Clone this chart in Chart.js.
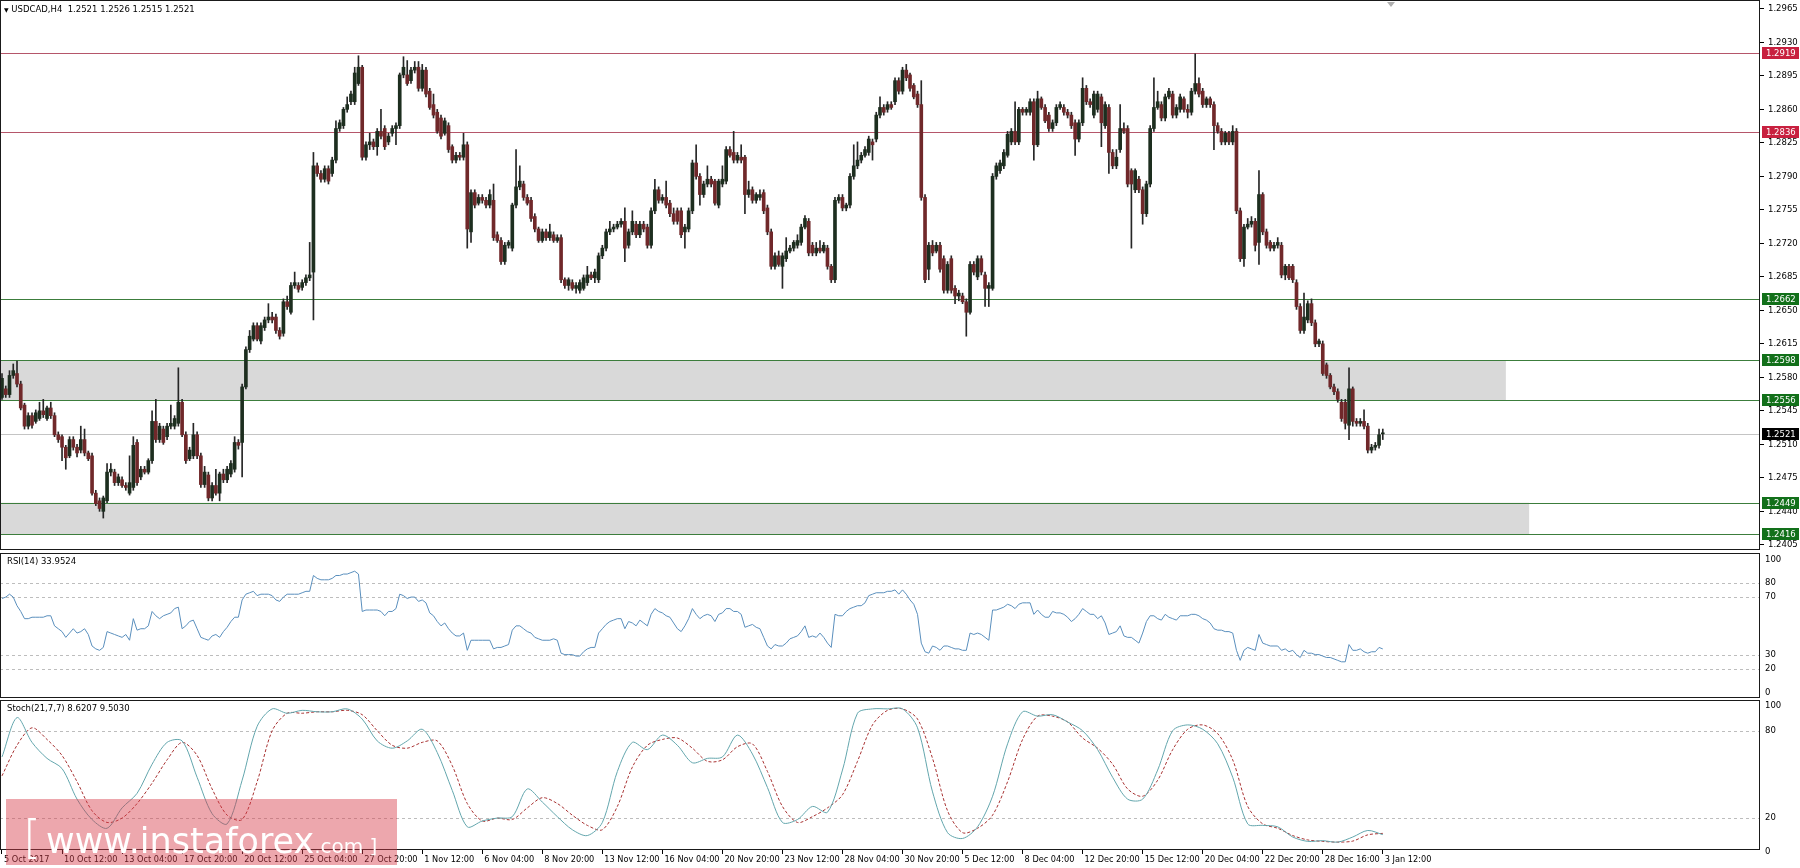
<!DOCTYPE html>
<html><head><meta charset="utf-8">
<script src="https://cdn.jsdelivr.net/npm/chart.js@4.4.1/dist/chart.umd.min.js"></script>
<style>
html,body{margin:0;padding:0;background:#fff;}
#wrap{position:relative;width:1800px;height:868px;overflow:hidden;background:#fff;font-family:"DejaVu Sans",sans-serif;}
canvas{position:absolute;left:0;}
.lbl{position:absolute;font-size:8.5px;line-height:10px;color:#000;white-space:pre;}
#wm{position:absolute;left:6px;top:799px;width:391px;height:66px;background:rgba(214,60,74,0.45);}
#wmText{position:absolute;left:17px;top:15px;color:#fff;white-space:pre;line-height:1;font-family:"DejaVu Sans",sans-serif;}
#shift{position:absolute;left:1387px;top:2px;width:0;height:0;border-left:4px solid transparent;border-right:4px solid transparent;border-top:5px solid #b0b0b0;}
</style></head><body>
<div id="wrap">
<canvas id="cMain" width="1800" height="550" style="top:0"></canvas>
<canvas id="cRsi" width="1800" height="145" style="top:553px"></canvas>
<canvas id="cSto" width="1800" height="168" style="top:700px"></canvas>
<div class="lbl" style="left:4px;top:4px"><span style="font-size:6px">▼</span> USDCAD,H4  1.2521 1.2526 1.2515 1.2521</div>
<div class="lbl" style="left:7px;top:556px">RSI(14) 33.9524</div>
<div class="lbl" style="left:7px;top:703px">Stoch(21,7,7) 8.6207 9.5030</div>
<div id="shift"></div>
<div id="wm"><div id="wmText"><span style="font-size:46px;font-weight:200">[</span> <span style="font-size:35px">www.instaforex</span><span style="font-size:20px">.com ]</span></div></div>
</div>
<script>
// ---------- DATA ----------
const xTickLabels = ['5 Oct 2017','10 Oct 12:00','13 Oct 04:00','17 Oct 20:00','20 Oct 12:00','25 Oct 04:00','27 Oct 20:00','1 Nov 12:00','6 Nov 04:00','8 Nov 20:00','13 Nov 12:00','16 Nov 04:00','20 Nov 20:00','23 Nov 12:00','28 Nov 04:00','30 Nov 20:00','5 Dec 12:00','8 Dec 04:00','12 Dec 20:00','15 Dec 12:00','20 Dec 04:00','22 Dec 20:00','28 Dec 16:00','3 Jan 12:00'];
const BARS_PER_LABEL = 16;
const priceTicks = [1.2405,1.2440,1.2475,1.2510,1.2545,1.2580,1.2615,1.2650,1.2685,1.2720,1.2755,1.2790,1.2825,1.2860,1.2895,1.2930,1.2965];

const opens = [1.2559,1.2568,1.2562,1.2582,1.2584,1.2573,1.2551,1.2529,1.2540,1.2534,
1.2537,1.2545,1.2537,1.2548,1.2540,1.2520,1.2518,1.2507,1.2498,1.2515,
1.2507,1.2504,1.2515,1.2501,1.2498,1.2459,1.2451,1.2440,1.2451,1.2481,
1.2481,1.2470,1.2473,1.2467,1.2459,1.2465,1.2512,1.2476,1.2484,1.2481,
1.2493,1.2534,1.2515,1.2526,1.2518,1.2529,1.2529,1.2532,1.2554,1.2520,
1.2495,1.2498,1.2520,1.2498,1.2468,1.2478,1.2454,1.2467,1.2459,1.2479,
1.2473,1.2479,1.2484,1.2512,1.2512,1.2570,1.2609,1.2620,1.2634,1.2618,
1.2632,1.2640,1.2643,1.2643,1.2629,1.2626,1.2659,1.2648,1.2676,1.2676,
1.2674,1.2679,1.2684,1.2690,1.2801,1.2793,1.2787,1.2798,1.2793,1.2807,
1.2840,1.2843,1.2860,1.2868,1.2868,1.2887,1.2904,1.2810,1.2823,1.2826,
1.2821,1.2837,1.2840,1.2826,1.2835,1.2840,1.2843,1.2896,1.2896,1.2890,
1.2901,1.2904,1.2882,1.2901,1.2879,1.2865,1.2857,1.2851,1.2835,1.2843,
1.2821,1.2807,1.2812,1.2810,1.2823,1.2732,1.2773,1.2762,1.2768,1.2765,
1.2760,1.2765,1.2729,1.2723,1.2701,1.2718,1.2715,1.2760,1.2779,1.2782,
1.2768,1.2765,1.2748,1.2735,1.2723,1.2732,1.2726,1.2729,1.2723,1.2726,
1.2682,1.2676,1.2679,1.2673,1.2671,1.2673,1.2679,1.2687,1.2684,1.2682,
1.2707,1.2715,1.2732,1.2735,1.2737,1.2740,1.2743,1.2718,1.2732,1.2740,
1.2729,1.2740,1.2737,1.2718,1.2754,1.2776,1.2765,1.2768,1.2762,1.2751,
1.2754,1.2754,1.2732,1.2735,1.2754,1.2804,1.2790,1.2771,1.2782,1.2787,
1.2785,1.2760,1.2782,1.2785,1.2818,1.2815,1.2807,1.2810,1.2810,1.2771,
1.2776,1.2765,1.2768,1.2773,1.2757,1.2732,1.2696,1.2707,1.2696,1.2704,
1.2712,1.2715,1.2718,1.2721,1.2737,1.2743,1.2718,1.2710,1.2715,1.2712,
1.2715,1.2696,1.2682,1.2765,1.2768,1.2757,1.2760,1.2790,1.2801,1.2807,
1.2812,1.2815,1.2826,1.2829,1.2854,1.2862,1.2860,1.2865,1.2868,1.2890,
1.2879,1.2901,1.2896,1.2885,1.2876,1.2865,1.2768,1.2693,1.2718,1.2712,
1.2718,1.2704,1.2671,1.2704,1.2673,1.2665,1.2665,1.2659,1.2648,1.2698,
1.2685,1.2704,1.2687,1.2673,1.2673,1.2790,1.2796,1.2801,1.2812,1.2826,
1.2837,1.2826,1.2860,1.2857,1.2857,1.2868,1.2823,1.2871,1.2862,1.2854,
1.2840,1.2846,1.2862,1.2862,1.2857,1.2854,1.2846,1.2829,1.2846,1.2882,
1.2868,1.2854,1.2860,1.2873,1.2843,1.2862,1.2815,1.2801,1.2818,1.2840,
1.2840,1.2796,1.2776,1.2787,1.2776,1.2751,1.2782,1.2840,1.2862,1.2865,
1.2851,1.2873,1.2876,1.2854,1.2860,1.2871,1.2860,1.2857,1.2879,1.2887,
1.2879,1.2865,1.2871,1.2865,1.2843,1.2837,1.2826,1.2835,1.2826,1.2837,
1.2754,1.2704,1.2737,1.2740,1.2743,1.2721,1.2771,1.2732,1.2721,1.2715,
1.2718,1.2718,1.2687,1.2696,1.2696,1.2679,1.2654,1.2629,1.2640,1.2657,
1.2637,1.2615,1.2615,1.2593,1.2582,1.2570,1.2565,1.2554,1.2554,1.2530,
1.2568,1.2534,1.2532,1.2534,1.2529,1.2504,1.2507,1.2509,1.2521];

const highs = [1.2584,1.2571,1.2587,1.2594,1.2597,1.2576,1.2553,1.2543,1.2543,1.2546,
1.2554,1.2557,1.2550,1.2554,1.2543,1.2523,1.2520,1.2509,1.2518,1.2518,
1.2510,1.2529,1.2526,1.2503,1.2501,1.2462,1.2454,1.2456,1.2490,1.2490,
1.2484,1.2479,1.2476,1.2470,1.2498,1.2518,1.2515,1.2487,1.2487,1.2495,
1.2545,1.2557,1.2532,1.2529,1.2532,1.2551,1.2540,1.2590,1.2557,1.2523,
1.2507,1.2532,1.2523,1.2501,1.2487,1.2481,1.2470,1.2484,1.2481,1.2484,
1.2487,1.2493,1.2518,1.2515,1.2573,1.2612,1.2629,1.2637,1.2637,1.2637,
1.2643,1.2657,1.2648,1.2646,1.2632,1.2662,1.2665,1.2679,1.2690,1.2679,
1.2682,1.2687,1.2721,1.2815,1.2804,1.2796,1.2801,1.2801,1.2810,1.2848,
1.2849,1.2862,1.2873,1.2879,1.2904,1.2916,1.2906,1.2826,1.2835,1.2829,
1.2840,1.2860,1.2843,1.2835,1.2843,1.2846,1.2898,1.2915,1.2911,1.2904,
1.2910,1.2910,1.2907,1.2904,1.2882,1.2876,1.2860,1.2854,1.2851,1.2846,
1.2823,1.2815,1.2815,1.2835,1.2826,1.2776,1.2776,1.2771,1.2771,1.2768,
1.2776,1.2782,1.2732,1.2726,1.2721,1.2723,1.2762,1.2818,1.2801,1.2785,
1.2771,1.2768,1.2751,1.2737,1.2735,1.2735,1.2740,1.2732,1.2729,1.2729,
1.2684,1.2684,1.2682,1.2679,1.2682,1.2687,1.2696,1.2690,1.2693,1.2710,
1.2718,1.2735,1.2743,1.2740,1.2743,1.2746,1.2757,1.2735,1.2754,1.2743,
1.2743,1.2743,1.2740,1.2757,1.2787,1.2779,1.2771,1.2785,1.2765,1.2757,
1.2757,1.2757,1.2740,1.2757,1.2807,1.2823,1.2793,1.2785,1.2801,1.2790,
1.2787,1.2787,1.2801,1.2821,1.2821,1.2837,1.2815,1.2823,1.2812,1.2785,
1.2779,1.2773,1.2776,1.2776,1.2760,1.2735,1.2710,1.2712,1.2710,1.2726,
1.2718,1.2723,1.2729,1.2740,1.2749,1.2746,1.2721,1.2721,1.2723,1.2721,
1.2718,1.2698,1.2768,1.2771,1.2771,1.2762,1.2793,1.2823,1.2826,1.2815,
1.2821,1.2832,1.2829,1.2857,1.2873,1.2865,1.2868,1.2868,1.2893,1.2893,
1.2904,1.2907,1.2898,1.2887,1.2879,1.2890,1.2771,1.2721,1.2723,1.2721,
1.2721,1.2707,1.2701,1.2707,1.2676,1.2671,1.2668,1.2662,1.2701,1.2701,
1.2707,1.2707,1.2690,1.2679,1.2793,1.2804,1.2807,1.2818,1.2837,1.2840,
1.2868,1.2862,1.2862,1.2862,1.2871,1.2871,1.2879,1.2873,1.2865,1.2857,
1.2849,1.2865,1.2868,1.2865,1.2860,1.2857,1.2849,1.2849,1.2893,1.2885,
1.2871,1.2879,1.2879,1.2876,1.2868,1.2865,1.2818,1.2818,1.2865,1.2846,
1.2843,1.2798,1.2798,1.2790,1.2779,1.2785,1.2843,1.2893,1.2879,1.2868,
1.2876,1.2882,1.2879,1.2865,1.2876,1.2873,1.2865,1.2882,1.2918,1.2893,
1.2882,1.2873,1.2873,1.2868,1.2846,1.2840,1.2837,1.2837,1.2843,1.2840,
1.2757,1.2740,1.2746,1.2748,1.2746,1.2796,1.2773,1.2735,1.2723,1.2721,
1.2726,1.2721,1.2698,1.2698,1.2698,1.2682,1.2657,1.2668,1.2660,1.2662,
1.2640,1.2620,1.2618,1.2595,1.2584,1.2573,1.2568,1.2557,1.2557,1.2590,
1.2570,1.2537,1.2537,1.2546,1.2532,1.2510,1.2512,1.2526,1.2526];

const lows = [1.2557,1.2559,1.2559,1.2579,1.2570,1.2546,1.2526,1.2526,1.2527,1.2532,
1.2535,1.2538,1.2535,1.2537,1.2518,1.2512,1.2493,1.2484,1.2496,1.2504,
1.2497,1.2501,1.2498,1.2493,1.2457,1.2446,1.2440,1.2433,1.2449,1.2477,
1.2467,1.2467,1.2465,1.2462,1.2457,1.2462,1.2467,1.2473,1.2479,1.2479,
1.2490,1.2512,1.2512,1.2510,1.2515,1.2526,1.2526,1.2529,1.2518,1.2490,
1.2493,1.2495,1.2495,1.2465,1.2465,1.2451,1.2451,1.2457,1.2451,1.2470,
1.2470,1.2476,1.2481,1.2505,1.2476,1.2568,1.2606,1.2618,1.2618,1.2615,
1.2629,1.2637,1.2637,1.2626,1.2620,1.2623,1.2651,1.2646,1.2673,1.2669,
1.2671,1.2676,1.2681,1.2640,1.2790,1.2784,1.2784,1.2782,1.2790,1.2804,
1.2837,1.2840,1.2857,1.2865,1.2865,1.2885,1.2807,1.2807,1.2818,1.2818,
1.2812,1.2829,1.2818,1.2823,1.2832,1.2823,1.2840,1.2893,1.2885,1.2887,
1.2898,1.2879,1.2879,1.2873,1.2860,1.2851,1.2835,1.2829,1.2833,1.2815,
1.2804,1.2804,1.2807,1.2807,1.2715,1.2721,1.2757,1.2760,1.2762,1.2757,
1.2757,1.2723,1.2721,1.2698,1.2698,1.2715,1.2712,1.2757,1.2776,1.2765,
1.2760,1.2743,1.2732,1.2721,1.2721,1.2723,1.2723,1.2721,1.2721,1.2679,
1.2673,1.2671,1.2671,1.2668,1.2668,1.2671,1.2676,1.2682,1.2679,1.2679,
1.2704,1.2712,1.2729,1.2732,1.2735,1.2737,1.2701,1.2715,1.2729,1.2726,
1.2726,1.2732,1.2715,1.2715,1.2751,1.2762,1.2762,1.2757,1.2748,1.2740,
1.2740,1.2726,1.2715,1.2732,1.2751,1.2787,1.2760,1.2768,1.2779,1.2779,
1.2760,1.2757,1.2779,1.2782,1.2810,1.2804,1.2804,1.2804,1.2751,1.2768,
1.2762,1.2762,1.2765,1.2751,1.2729,1.2693,1.2693,1.2696,1.2673,1.2701,
1.2710,1.2712,1.2715,1.2718,1.2735,1.2707,1.2707,1.2707,1.2710,1.2710,
1.2693,1.2679,1.2679,1.2762,1.2754,1.2754,1.2757,1.2787,1.2798,1.2804,
1.2810,1.2812,1.2807,1.2826,1.2851,1.2854,1.2857,1.2860,1.2865,1.2876,
1.2876,1.2890,1.2879,1.2871,1.2862,1.2765,1.2679,1.2682,1.2707,1.2710,
1.2690,1.2668,1.2668,1.2668,1.2657,1.2660,1.2657,1.2623,1.2646,1.2687,
1.2682,1.2687,1.2654,1.2654,1.2671,1.2787,1.2793,1.2798,1.2810,1.2823,
1.2823,1.2823,1.2854,1.2854,1.2854,1.2807,1.2821,1.2860,1.2846,1.2837,
1.2837,1.2843,1.2860,1.2854,1.2851,1.2840,1.2812,1.2826,1.2843,1.2865,
1.2862,1.2851,1.2857,1.2821,1.2840,1.2793,1.2798,1.2798,1.2815,1.2835,
1.2779,1.2715,1.2773,1.2773,1.2740,1.2748,1.2779,1.2837,1.2860,1.2848,
1.2848,1.2871,1.2851,1.2851,1.2857,1.2857,1.2851,1.2854,1.2876,1.2873,
1.2862,1.2862,1.2862,1.2818,1.2835,1.2823,1.2823,1.2823,1.2823,1.2751,
1.2701,1.2696,1.2735,1.2737,1.2712,1.2698,1.2729,1.2715,1.2712,1.2712,
1.2715,1.2684,1.2682,1.2682,1.2679,1.2651,1.2626,1.2626,1.2637,1.2634,
1.2612,1.2612,1.2582,1.2579,1.2568,1.2562,1.2554,1.2534,1.2526,1.2515,
1.2529,1.2529,1.2529,1.2526,1.2501,1.2501,1.2504,1.2506,1.2515];

const closes = [1.2579,1.2562,1.2582,1.2587,1.2573,1.2548,1.2529,1.2540,1.2530,1.2543,
1.2545,1.2541,1.2548,1.2540,1.2520,1.2515,1.2507,1.2496,1.2515,1.2507,
1.2501,1.2515,1.2501,1.2495,1.2459,1.2448,1.2443,1.2454,1.2481,1.2484,
1.2470,1.2476,1.2467,1.2465,1.2470,1.2509,1.2470,1.2484,1.2481,1.2493,
1.2534,1.2515,1.2529,1.2512,1.2529,1.2532,1.2537,1.2554,1.2520,1.2493,
1.2504,1.2520,1.2498,1.2468,1.2481,1.2454,1.2467,1.2459,1.2479,1.2473,
1.2484,1.2490,1.2512,1.2509,1.2570,1.2609,1.2623,1.2634,1.2620,1.2634,
1.2640,1.2643,1.2640,1.2629,1.2623,1.2659,1.2654,1.2676,1.2679,1.2672,
1.2679,1.2684,1.2687,1.2801,1.2793,1.2787,1.2798,1.2785,1.2807,1.2840,
1.2846,1.2860,1.2865,1.2876,1.2898,1.2904,1.2810,1.2823,1.2826,1.2821,
1.2837,1.2832,1.2821,1.2832,1.2840,1.2843,1.2896,1.2904,1.2887,1.2901,
1.2904,1.2882,1.2901,1.2876,1.2862,1.2854,1.2837,1.2832,1.2848,1.2818,
1.2807,1.2812,1.2810,1.2823,1.2735,1.2773,1.2760,1.2768,1.2765,1.2760,
1.2771,1.2726,1.2723,1.2701,1.2718,1.2721,1.2760,1.2779,1.2785,1.2768,
1.2762,1.2746,1.2735,1.2723,1.2732,1.2726,1.2732,1.2723,1.2726,1.2682,
1.2676,1.2682,1.2673,1.2676,1.2679,1.2684,1.2687,1.2684,1.2690,1.2707,
1.2715,1.2732,1.2735,1.2737,1.2740,1.2743,1.2715,1.2732,1.2743,1.2729,
1.2740,1.2735,1.2718,1.2754,1.2776,1.2765,1.2768,1.2760,1.2751,1.2743,
1.2743,1.2729,1.2737,1.2754,1.2804,1.2790,1.2771,1.2782,1.2787,1.2782,
1.2762,1.2785,1.2787,1.2818,1.2812,1.2807,1.2812,1.2807,1.2771,1.2776,
1.2765,1.2771,1.2771,1.2754,1.2732,1.2696,1.2707,1.2698,1.2707,1.2712,
1.2715,1.2721,1.2723,1.2737,1.2746,1.2710,1.2710,1.2715,1.2712,1.2718,
1.2696,1.2682,1.2765,1.2768,1.2757,1.2760,1.2790,1.2801,1.2807,1.2812,
1.2818,1.2829,1.2823,1.2854,1.2862,1.2857,1.2865,1.2862,1.2890,1.2879,
1.2901,1.2893,1.2882,1.2873,1.2865,1.2768,1.2682,1.2718,1.2710,1.2718,
1.2693,1.2671,1.2698,1.2671,1.2665,1.2668,1.2659,1.2648,1.2698,1.2690,
1.2704,1.2690,1.2673,1.2676,1.2790,1.2801,1.2804,1.2815,1.2834,1.2837,
1.2826,1.2860,1.2857,1.2860,1.2868,1.2823,1.2871,1.2862,1.2848,1.2840,
1.2846,1.2862,1.2865,1.2857,1.2854,1.2843,1.2829,1.2846,1.2882,1.2868,
1.2865,1.2876,1.2876,1.2846,1.2865,1.2815,1.2801,1.2810,1.2840,1.2837,
1.2782,1.2782,1.2796,1.2776,1.2751,1.2782,1.2840,1.2862,1.2868,1.2851,
1.2873,1.2879,1.2854,1.2862,1.2873,1.2860,1.2857,1.2879,1.2887,1.2876,
1.2865,1.2871,1.2865,1.2843,1.2837,1.2826,1.2835,1.2826,1.2837,1.2754,
1.2704,1.2737,1.2740,1.2743,1.2718,1.2771,1.2732,1.2718,1.2715,1.2718,
1.2721,1.2687,1.2696,1.2684,1.2682,1.2654,1.2629,1.2643,1.2657,1.2637,
1.2615,1.2618,1.2584,1.2582,1.2570,1.2565,1.2557,1.2537,1.2532,1.2568,
1.2534,1.2532,1.2534,1.2529,1.2504,1.2507,1.2509,1.2520,1.2521];

const rsiValues = [69,70,72,70,64,60,55,55,56,56,
56,56,57,57,50,48,46,42,45,48,
45,46,48,44,36,34,33,35,46,45,
44,43,42,44,40,55,47,48,48,50,
60,57,55,57,58,59,62,63,48,50,
53,54,48,42,41,40,43,44,42,46,
49,53,56,56,68,72,73,74,71,72,
72,72,71,68,67,70,72,72,72,72,
73,74,74,85,83,82,82,82,83,85,
85,86,86,87,88,86,60,61,61,61,
61,60,57,60,60,62,72,71,69,70,
70,67,68,66,59,57,53,50,52,48,
45,43,43,45,33,40,40,40,40,40,
40,34,35,35,36,37,47,50,50,48,
46,45,42,41,40,40,40,41,40,31,
30,30,30,29,29,32,34,35,35,45,
48,51,53,54,55,55,48,53,52,50,
54,52,50,58,62,60,59,57,56,52,
48,46,50,55,62,58,55,57,58,57,
53,58,59,62,62,60,60,58,49,50,
51,49,48,42,36,34,37,36,36,38,
41,42,43,46,50,42,43,42,45,42,
38,35,58,57,57,60,62,63,64,64,
66,71,72,73,73,73,74,74,75,72,
75,72,68,65,58,38,32,31,36,35,
33,36,36,35,34,34,33,33,45,44,
45,44,42,40,61,61,62,63,65,64,
62,65,66,66,66,58,61,58,56,56,
60,59,59,58,56,53,55,58,62,60,
58,58,55,57,52,44,45,46,50,43,
42,42,40,38,45,53,57,57,55,54,
58,56,55,54,57,57,57,58,58,57,
55,54,52,48,47,47,46,46,45,33,
26,33,35,34,33,44,38,37,36,36,
36,33,34,32,33,30,28,33,31,31,
30,30,29,28,28,27,26,25,25,37,
33,33,34,32,31,32,32,35,33.95];

const STOCH_STEP = 4; // one reading every 4 bars
const stochMain = [62,89,72,61,54,33,19,13,27,37,57,72,73,48,23,16,46,83,95,92,94,93,93,95,
88,73,68,73,81,65,39,14,18,20,21,40,31,21,12,8,17,52,72,67,77,70,58,
61,62,77,64,41,17,19,28,24,53,92,95,95,95,82,38,10,6,14,35,71,93,90,91,
86,80,67,48,33,33,53,80,84,81,71,48,16,15,14,7,4,4.5,3.5,7,11.5,8.6207];
const stochSignal = [49,70,82,74,63,45,25,17,20,30,44,60,72,63,40,22,19,45,80,92,92,93,93,94,
91,80,70,68,72,73,56,30,18,20,19,27,34,30,22,15,12,28,55,70,74,75,68,
59,60,69,71,52,28,17,21,27,36,59,84,94,95,88,61,25,10,13,22,45,74,90,90,
86,75,68,57,40,35,46,67,81,84,78,60,28,16,13,8,5,4,3.5,4.2,8.5,9.503];

const rsiLevels = [20,30,70,80];
const rsiAxisValues = [0,20,30,70,80,100];
const stochLevels = [20,80];
const stochAxisValues = [0,20,80,100];

const levelPrices = [1.2919,1.2836,1.2662,1.2598,1.2556,1.2449,1.2416];
const levelKinds  = ['resistance','resistance','support','support','support','support','support'];
const bidPrice = 1.2521;
const zoneLow  = [1.2556,1.2416];
const zoneHigh = [1.2598,1.2449];
const zoneEndBar = [400.8,407];

// ---------- STYLE ----------
const FONT = '8.5px "DejaVu Sans", sans-serif';
const kindStyle = {resistance:{line:'#b5566a', box:'#c8203f'}, support:{line:'#3c7d3c', box:'#12701a'}};
const BULL = '#1d2e1f', BEAR = '#70282a', WICK = '#262626';
const X_MIN = -0.533, X_MAX = 468.53;
const AXIS_W = 40;

function fitY(s){ s.width = AXIS_W; s.paddingTop = 0; s.paddingBottom = 0; }
function frame(chart){
  const {ctx, chartArea:a} = chart;
  ctx.save(); ctx.strokeStyle = '#1a1a1a'; ctx.lineWidth = 1; ctx.setLineDash([]);
  ctx.strokeRect(a.left+0.5, a.top+0.5, a.right-a.left-1, a.bottom-a.top-1);
  ctx.restore();
}
function hline(ctx, a, py, color, dash){
  const y = Math.round(py)+0.5;
  ctx.strokeStyle = color; ctx.lineWidth = 1; ctx.setLineDash(dash||[]);
  ctx.beginPath(); ctx.moveTo(a.left, y); ctx.lineTo(a.right, y); ctx.stroke();
}

const mainDecor = {
  id:'mainDecor',
  beforeDatasetsDraw(chart){
    const {ctx, chartArea:a, scales:{x, y}} = chart;
    ctx.save();
    ctx.fillStyle = '#d9d9d9';
    for (let k=0;k<zoneLow.length;k++){
      const yt = y.getPixelForValue(zoneHigh[k]), yb = y.getPixelForValue(zoneLow[k]);
      const xr = x.getPixelForValue(zoneEndBar[k]);
      ctx.fillRect(a.left, yt, xr-a.left, yb-yt);
    }
    hline(ctx, a, y.getPixelForValue(bidPrice), '#c4c4c4');
    levelPrices.forEach((p,k)=> hline(ctx, a, y.getPixelForValue(p), kindStyle[levelKinds[k]].line));
    ctx.restore();
  },
  afterDraw(chart){
    frame(chart);
    const {ctx, chartArea:a, scales:{y}} = chart;
    ctx.save();
    ctx.font = FONT; ctx.textBaseline = 'middle'; ctx.textAlign = 'left';
    const box = (p, color) => {
      const py = Math.round(y.getPixelForValue(p));
      ctx.fillStyle = color; ctx.fillRect(a.right+2, py-6, AXIS_W-3, 12);
      ctx.fillStyle = '#fff'; ctx.fillText(p.toFixed(4), a.right+6, py+0.5);
    };
    levelPrices.forEach((p,k)=> box(p, kindStyle[levelKinds[k]].box));
    box(bidPrice, '#000');
    ctx.restore();
  }
};

function indicatorDecor(id, levels, axisVals, nudgeTop, nudgeBottom){
  return {
    id,
    beforeDatasetsDraw(chart){
      const {ctx, chartArea:a, scales:{y}} = chart;
      ctx.save();
      levels.forEach(v=> hline(ctx, a, y.getPixelForValue(v), '#bdbdbd', [3,3]));
      ctx.restore();
    },
    afterDraw(chart){
      frame(chart);
      const {ctx, chartArea:a, scales:{y}} = chart;
      ctx.save();
      ctx.font = FONT; ctx.fillStyle = '#000'; ctx.textBaseline = 'middle'; ctx.textAlign = 'left';
      const vmax = Math.max(...axisVals), vmin = Math.min(...axisVals);
      axisVals.forEach(v=>{
        let py = y.getPixelForValue(v);
        if (v === vmax) py += nudgeTop;
        if (v === vmin) py += nudgeBottom;
        ctx.fillText(String(v), a.right+5, py);
      });
      ctx.restore();
    }
  };
}

const common = {
  responsive:false, animation:false, devicePixelRatio:1, events:[],
  layout:{padding:0},
  plugins:{legend:{display:false}, tooltip:{enabled:false}, title:{display:false}}
};
const hiddenX = {type:'linear', display:false, min:X_MIN, max:X_MAX, offset:false, grid:{offset:false}};

// ---------- MAIN CANDLES ----------
const wickData = [], bodyData = [];
for (let i=0;i<closes.length;i++){
  wickData.push({x:i, y:[lows[i], highs[i]]});
  bodyData.push({x:i, y:[opens[i], closes[i]]});
}
new Chart(document.getElementById('cMain'), {
  type:'bar',
  data:{datasets:[
    {label:'body', data:bodyData, order:0, grouped:false, barThickness:3, minBarLength:1, borderWidth:0,
     backgroundColor: c => (closes[c.dataIndex] >= opens[c.dataIndex] ? BULL : BEAR)},
    {label:'wick', data:wickData, order:1, grouped:false, barThickness:1, borderWidth:0, backgroundColor:WICK}
  ]},
  options:Object.assign({}, common, {
    scales:{
      x: hiddenX,
      y:{position:'right', min:1.239962, max:1.297427,
         afterBuildTicks: s => { s.ticks = priceTicks.map(v=>({value:v})); },
         ticks:{callback:v=>Number(v).toFixed(4), font:{family:'DejaVu Sans', size:8.5}, color:'#000', padding:4},
         grid:{drawOnChartArea:false, drawTicks:true, tickLength:4, color:'#000'},
         border:{display:false}, afterFit: fitY}
    }
  }),
  plugins:[mainDecor]
});

// ---------- RSI ----------
new Chart(document.getElementById('cRsi'), {
  type:'line',
  data:{datasets:[{data: rsiValues.map((v,i)=>({x:i, y:v})), borderColor:'#5a8fbd', borderWidth:1, pointRadius:0, tension:0}]},
  options:Object.assign({}, common, {
    scales:{
      x: hiddenX,
      y:{position:'right', min:-0.14, max:100.63, ticks:{display:false}, grid:{display:false}, border:{display:false}, afterFit: fitY}
    }
  }),
  plugins:[indicatorDecor('rsiDecor', rsiLevels, rsiAxisValues, 6, -5)]
});

// ---------- STOCHASTIC ----------
new Chart(document.getElementById('cSto'), {
  type:'line',
  data:{datasets:[
    {data: stochMain.map((v,k)=>({x:k*STOCH_STEP, y:v})), borderColor:'#63a6ad', borderWidth:1, pointRadius:0, tension:0.3},
    {data: stochSignal.map((v,k)=>({x:k*STOCH_STEP, y:v})), borderColor:'#a83232', borderWidth:1, borderDash:[3,2], pointRadius:0, tension:0.3}
  ]},
  options:Object.assign({}, common, {
    scales:{
      x:{type:'linear', min:X_MIN, max:X_MAX, offset:false,
         afterBuildTicks: s => { s.ticks = xTickLabels.map((_,k)=>({value:k*BARS_PER_LABEL})); },
         ticks:{callback:(v,idx)=>xTickLabels[idx], autoSkip:false, maxRotation:0, minRotation:0, align:'start', labelOffset:2, padding:1,
                font:{family:'DejaVu Sans', size:8.2}, color:'#000'},
         grid:{drawOnChartArea:false, drawTicks:true, tickLength:4, color:'#000', offset:false},
         border:{display:false},
         afterFit: s => { s.height = 18; s.paddingLeft = 0; s.paddingRight = 0; }},
      y:{position:'right', min:-1.92, max:101.1, ticks:{display:false}, grid:{display:false}, border:{display:false}, afterFit: fitY}
    }
  }),
  plugins:[indicatorDecor('stoDecor', stochLevels, stochAxisValues, 4, 5)]
});
</script>
</body></html>
